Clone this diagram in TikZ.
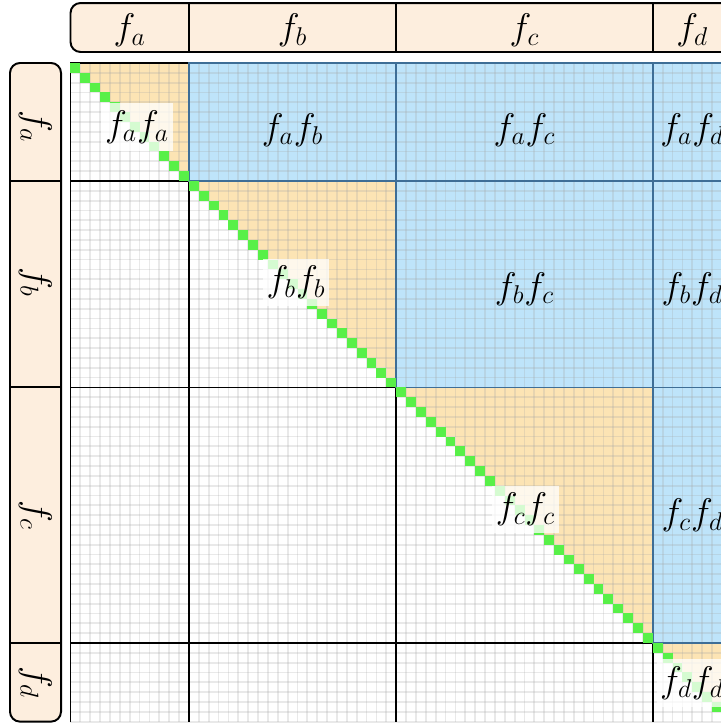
\documentclass[tikz,border=0pt]{standalone}
\definecolor{hdr}{RGB}{253,238,222}
\definecolor{org}{RGB}{252,228,180}
\definecolor{blu}{RGB}{190,228,250}
\definecolor{bluedge}{RGB}{62,110,150}
\definecolor{grn}{RGB}{88,240,72}
\tikzset{
  gridline/.style={draw=black!35, draw opacity=0.25, line width=1pt},
  partline/.style={draw=black, line width=1pt},
  blueblock/.style={fill=blu},
  blueedge/.style={draw=bluedge, line width=1pt},
  hdrbox/.style={fill=hdr, draw=black, line width=1.1pt, rounded corners=5.6pt},
  hdrdiv/.style={draw=black, line width=1.1pt},
  lab/.style={font=\huge, inner sep=1pt},
  diaglab/.style={font=\huge, fill=white, fill opacity=0.75, text opacity=1, inner xsep=2pt, inner ysep=4pt},
}
\begin{document}
\begin{tikzpicture}[x=5.527pt,y=-5.505pt]
\useasboundingbox (-7.143,-6.409) rectangle (65.907,67.14);
\clip (-7.143,-6.409) rectangle (65.907,67.14);
% blue off-diagonal blocks
\fill[blueblock] (12,0) rectangle (33,12);
\fill[blueblock] (33,0) rectangle (59,12);
\fill[blueblock] (59,0) rectangle (67,12);
\fill[blueblock] (33,12) rectangle (59,33);
\fill[blueblock] (59,12) rectangle (67,33);
\fill[blueblock] (59,33) rectangle (67,59);
% orange upper triangles of diagonal blocks
\foreach \s/\e in {0/12,12/33,33/59,59/67} {
  \pgfmathtruncatemacro\pa{\s+1}
  \pgfmathtruncatemacro\pb{\e-1}
  \pgfmathtruncatemacro\pc{\e-2}
  \fill[org] (\pa,\s) -- (\e,\s) -- (\e,\pb)
    \foreach \k in {\pb,\pc,...,\pa} { -- (\k,\k) -- (\k,\k-1) } -- cycle;
}
% grid
\foreach \i in {0,...,67} {
  \draw[gridline] (\i,0) -- (\i,67);
  \draw[gridline] (0,\i) -- (67,\i);
}
% partition lines
\draw[partline] (0,0) -- (67,0);
\draw[partline] (0,0) -- (0,67);
\foreach \v in {12,33,59} {
  \draw[partline] (\v,0) -- (\v,67);
  \draw[partline] (0,\v) -- (67,\v);
}
% blue block edges
\draw[blueedge] (12,0) rectangle (33,12);
\draw[blueedge] (33,0) rectangle (59,12);
\draw[blueedge] (59,0) rectangle (67,12);
\draw[blueedge] (33,12) rectangle (59,33);
\draw[blueedge] (59,12) rectangle (67,33);
\draw[blueedge] (59,33) rectangle (67,59);
% green diagonal
\foreach \i in {0,...,66} { \fill[grn] (\i,\i) rectangle ++(1,1); }
% diagonal labels
\node[diaglab] (aa) at (6.74,6.51) {$f_af_a$};
\node[diaglab] (bb) at (22.85,22.33) {$f_bf_b$};
\node[diaglab] (cc) at (46.1,45.4) {$f_cf_c$};
\node[diaglab] (dd) at (62.97,63.07) {$f_df_d$};
% off-diagonal labels
\node[lab] (ab) at (22.5,6.8) {$f_af_b$};
\node[lab] (ac) at (46,6.8) {$f_af_c$};
\node[lab] (ad) at (63,6.8) {$f_af_d$};
\node[lab] (bc) at (46,23) {$f_bf_c$};
\node[lab] (bd) at (63,23) {$f_bf_d$};
\node[lab] (cd) at (63,46) {$f_cf_d$};
% top header
\draw[hdrbox] (0,-6.1) rectangle (72,-1.12);
\foreach \v in {12,33,59} { \draw[hdrdiv] (\v,-6.1) -- (\v,-1.12); }
\node[lab] (ta) at (6,-3.3) {$f_a$};
\node[lab] (tb) at (22.5,-3.3) {$f_b$};
\node[lab] (tc) at (46,-3.3) {$f_c$};
\node[lab] (td) at (63,-3.3) {$f_d$};
% left header
\draw[hdrbox] (-6.13,0) rectangle (-0.96,67);
\foreach \v in {12,33,59} { \draw[hdrdiv] (-6.13,\v) -- (-0.96,\v); }
\node[lab, rotate=-90] (la) at (-3.55,6.5) {$f_a$};
\node[lab, rotate=-90] (lb) at (-3.55,22.3) {$f_b$};
\node[lab, rotate=-90] (lc) at (-3.55,46) {$f_c$};
\node[lab, rotate=-90] (ld) at (-3.55,63) {$f_d$};
\end{tikzpicture}
\end{document}
